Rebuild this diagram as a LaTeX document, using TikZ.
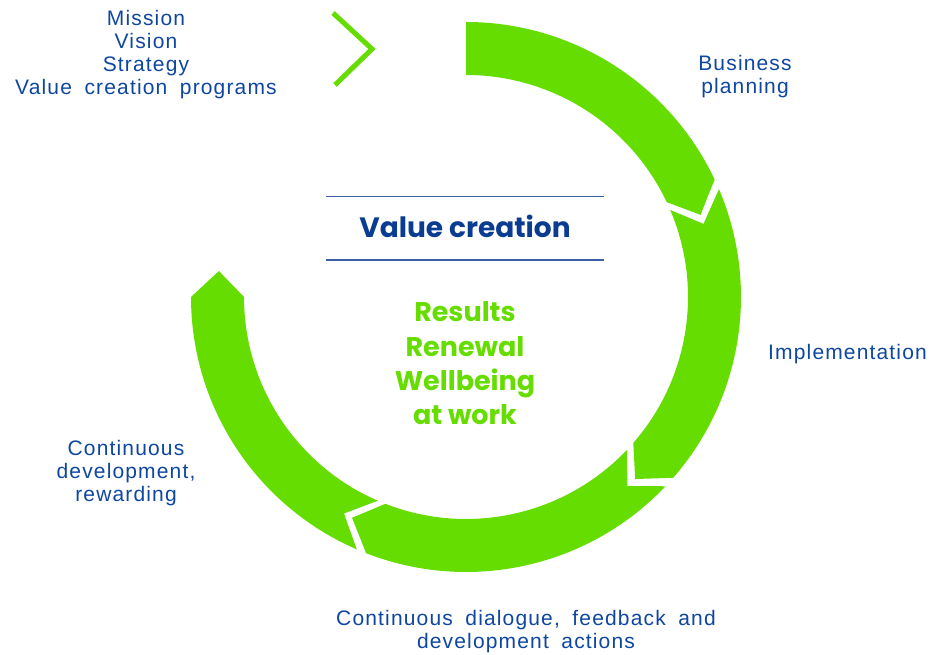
\documentclass[tikz,border=0pt]{standalone}
\usepackage{fontspec}
\setmainfont{Liberation Sans}[LetterSpace=5.5,WordSpace=1.8]
\newfontfamily\roundfont{Poppins}
\usetikzlibrary{positioning}
\definecolor{leaf}{RGB}{102,221,0}
\definecolor{navy}{RGB}{10,60,145}
\definecolor{ink}{RGB}{14,70,160}
\definecolor{rulecol}{RGB}{60,95,165}

\begin{document}
\begin{tikzpicture}[x=1pt,y=1pt,
  ring/.style={fill=leaf},
  stage/.style={text=ink,align=center,inner sep=0pt,
    font=\fontsize{21}{23}\selectfont},
  heading/.style={text=navy,inner sep=0pt,
    font=\roundfont\bfseries\fontsize{28}{30}\selectfont},
  goal/.style={text=leaf,align=center,inner sep=0pt,
    font=\roundfont\bfseries\fontsize{27}{34.2}\selectfont},
  divider/.style={draw=rulecol,line width=1.5pt}]
  \useasboundingbox (0,0) rectangle (935,655);
  % the ring, four arrow pieces running clockwise
  \begin{scope}[shift={(466,358)}]
    \fill[ring] (90:275) arc[start angle=90,end angle=25.3,radius=275]
      -- (19.3:248.5) -- (25.3:222) arc[start angle=25.3,end angle=90,radius=222] -- cycle;
    \fill[ring] (23.1:275) arc[start angle=23.1,end angle=-41.1,radius=275]
      -- (-47.1:248.5) -- (-41.1:222) arc[start angle=-41.1,end angle=23.1,radius=222]
      -- (17.1:248.5) -- cycle;
    \fill[ring] (-43.5:275) arc[start angle=-43.5,end angle=-111.3,radius=275]
      -- (-117.3:248.5) -- (-111.3:222) arc[start angle=-111.3,end angle=-43.5,radius=222]
      -- (-49.5:248.5) -- cycle;
    \fill[ring] (-113.4:275) arc[start angle=-113.4,end angle=-180,radius=275]
      -- (-186:248.5) -- (-180:222) arc[start angle=-180,end angle=-113.4,radius=222]
      -- (-119.4:248.5) -- cycle;
  \end{scope}
  \draw[leaf,line width=5pt,miter limit=10] (333,642) -- (372,606) -- (335,570);
  % texts round the ring
  \node[stage] (mission) at (146,600) {Mission\\Vision\\Strategy\\Value creation programs};
  \node[stage] (planning) at (745,578) {Business\\planning};
  \node[stage,anchor=base] (implement) at (847.5,295) {Implementation};
  \node[stage] (develop) at (126,182) {Continuous\\development,\\rewarding};
  \node[stage] (dialogue) at (526,23) {Continuous dialogue, feedback and\\development actions};
  % centre
  \node[heading,anchor=base] (value) at (465,417.7) {Value creation};
  \draw[divider] (326,458.3) -- (604,458.3);
  \draw[divider] (326,395) -- (604,395);
  \node[goal] (results) at (465,291.6) {Results\\Renewal\\Wellbeing\\at work};
\end{tikzpicture}
\end{document}
